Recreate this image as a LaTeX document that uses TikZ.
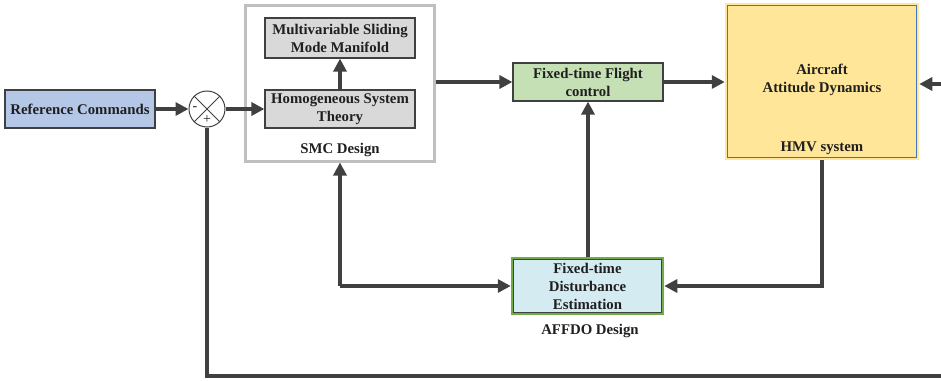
\documentclass[tikz,border=0pt]{standalone}
\usepackage{fontspec}
\setmainfont{Liberation Serif}
\usetikzlibrary{arrows.meta}
\definecolor{ln}{HTML}{404040}
\definecolor{refblue}{HTML}{B4C7E7}
\definecolor{boxgray}{HTML}{D9D9D9}
\definecolor{smcgray}{HTML}{BFBFBF}
\definecolor{flgreen}{HTML}{C5E0B4}
\definecolor{hmvyellow}{HTML}{FFE699}
\definecolor{hmvblue}{HTML}{4472C4}
\definecolor{estcyan}{HTML}{D4EBF2}
\definecolor{estgreen}{HTML}{70AD47}
\begin{document}
\begin{tikzpicture}[x=1pt,y=-1pt,
  txt/.style={font=\bfseries\fontsize{14.8}{18}\selectfont, text=black!88, align=center},
  blk/.style={txt, draw=ln, line width=1.2pt, inner sep=0pt},
  conn/.style={draw=ln, line width=3.6pt, -{Triangle[length=13pt,width=13pt]}},
  wire/.style={draw=ln, line width=3.6pt}]
\useasboundingbox (0,0) rectangle (941,380);
% blocks
\node[blk, fill=refblue, minimum width=150pt, minimum height=38pt] (ref) at (80,109) {Reference Commands};
\node[draw=ln, line width=1pt, circle, minimum size=36pt, inner sep=0pt] (sum) at (207,109) {};
\draw[ln, line width=1pt] (sum.north west) -- (sum.south east) (sum.north east) -- (sum.south west);
\node[font=\fontsize{14}{14}\selectfont, text=black!88, inner sep=0pt] (minus) at (195,109) {-};
\node[font=\fontsize{14}{14}\selectfont, text=black!88, inner sep=0pt] (plus) at (207,120) {+};
\node[draw=smcgray, line width=3pt, minimum width=189pt, minimum height=156pt] (smc) at (339.5,83) {};
\node[blk, fill=boxgray, minimum width=150pt, minimum height=40pt] (msm) at (340,38) {Multivariable Sliding\\Mode Manifold};
\node[blk, fill=boxgray, minimum width=150pt, minimum height=38pt] (hst) at (340,109) {Homogeneous System\\Theory};
\node[txt] (smclab) at (340,150) {SMC Design};
\node[blk, fill=flgreen, minimum width=150pt, minimum height=38pt] (ftfc) at (588,82) {Fixed-time Flight\\control};
\node[draw=hmvyellow, line width=2.5pt, minimum width=192pt, minimum height=155pt, fill=hmvyellow] (hmvo) at (822,81.5) {};
\node[draw=hmvblue, line width=0.8pt, minimum width=189pt, minimum height=152pt] (hmv) at (822,81.5) {};
\node[txt] (hmvtxt) at (822,80) {Aircraft\\Attitude Dynamics};
\node[txt] (hmvlab) at (822,148) {HMV system};
\node[draw=estgreen, line width=2.5pt, minimum width=151pt, minimum height=56pt, fill=estcyan] (esto) at (587.5,286) {};
\node[blk, minimum width=148pt, minimum height=53pt] (est) at (587.5,286) {Fixed-time\\Disturbance\\Estimation};
\node[txt] (afflab) at (590,331) {AFFDO Design};
\coordinate (rin) at (941,84);
\coordinate (fbr) at (941,376);
\coordinate (fbl) at (207,376);
\coordinate (hbot) at (822,286);
\coordinate (sbot) at (340,286);
% connectors
\draw[conn] (ref.east) -- (sum.west);
\draw[conn] (sum.east) -- (hst.west);
\draw[conn] (hst.north) -- (msm.south);
\draw[conn] (smc.east |- ftfc.west) -- (ftfc.west);
\draw[conn] (ftfc.east) -- (hmvo.west |- ftfc.east);
\draw[conn] (rin) -- (hmvo.east |- rin);
\draw[conn] (hmvo.south) -- (hbot) -- (esto.east);
\draw[conn] (esto.north -| ftfc.south) -- (ftfc.south);
\draw[conn] (sbot) -- (smc.south -| sbot);
\draw[conn] (sbot) -- (esto.west);
\draw[wire] (fbr) -- (fbl) -- (sum.south);
\end{tikzpicture}
\end{document}
